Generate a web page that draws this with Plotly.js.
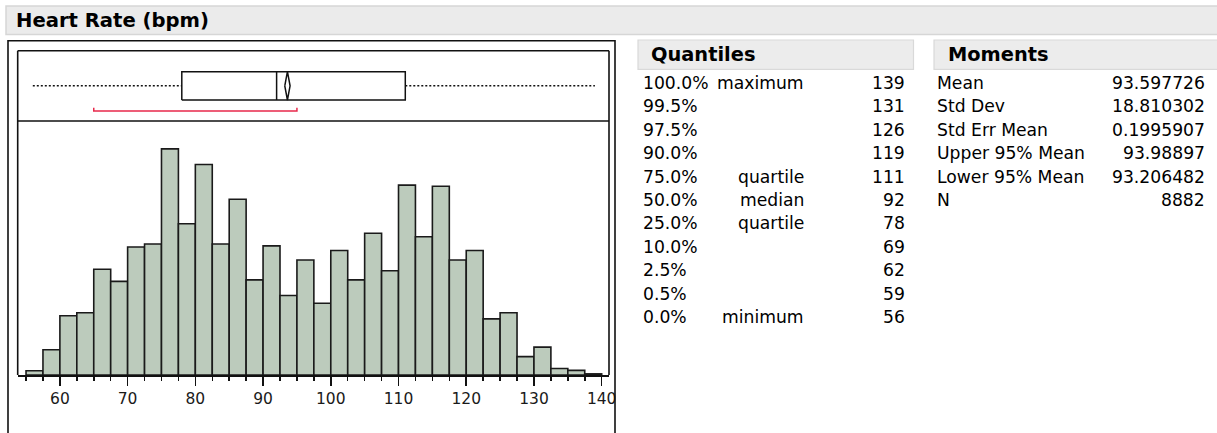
<!DOCTYPE html>
<html>
<head>
<meta charset="utf-8">
<script src="https://cdn.plot.ly/plotly-3.0.1.min.js"></script>
<style>
  html, body { margin: 0; padding: 0; background: #ffffff; }
  #chart { width: 1217px; height: 433px; }
</style>
</head>
<body>
<div id="chart"></div>
<script>
// Heart rate distribution: histogram counts per 2.5 bpm bin
const binLow = [55, 57.5, 60, 62.5, 65, 67.5, 70, 72.5, 75, 77.5, 80, 82.5, 85, 87.5,
                90, 92.5, 95, 97.5, 100, 102.5, 105, 107.5, 110, 112.5, 115, 117.5,
                120, 122.5, 125, 127.5, 130, 132.5, 135, 137.5];
const binCounts = [11, 66, 155, 163, 277, 245, 335, 343, 592, 396, 551, 343, 460, 249,
                   338, 208, 301, 188, 326, 249, 371, 273, 497, 362, 494, 301,
                   326, 147, 163, 48, 73, 17, 12, 3];
const binWidth = 2.5;

// Quantiles table
const quantileLevels = ["100.0%", "99.5%", "97.5%", "90.0%", "75.0%", "50.0%",
                        "25.0%", "10.0%", "2.5%", "0.5%", "0.0%"];
const quantileNames = ["maximum", "", "", "", "quartile", "median",
                       "quartile", "", "", "", "minimum"];
const quantileValues = [139, 131, 126, 119, 111, 92, 78, 69, 62, 59, 56];

// Moments table
const momentNames = ["Mean", "Std Dev", "Std Err Mean", "Upper 95% Mean", "Lower 95% Mean", "N"];
const momentValues = ["93.597726", "18.810302", "0.1995907", "93.98897", "93.206482", "8882"];

// Shortest half bracket
const shortestHalf = [65, 95];

// Summary values used by the outlier box plot
const qMax = quantileValues[0];
const qUpper = quantileValues[4];
const qMedian = quantileValues[5];
const qLower = quantileValues[6];
const qMin = quantileValues[10];
const mean = parseFloat(momentValues[0]);
const meanHi = parseFloat(momentValues[3]);
const meanLo = parseFloat(momentValues[4]);

// Page geometry (pixels) -> paper coordinates
const W = 1217, H = 433;
const px = v => v / W;
const py = v => 1 - v / H;

const FONT = "DejaVu Sans, Verdana, sans-serif";
const INK = "#111111";

// Box plot band is measured in pixels inside yaxis2 (range 0..70.3)
const boxBottom = 21, boxTop = 49.3, boxMid = 35.15, bracketY = 10, bracketTip = 13.3;

const traces = [
  {
    type: "bar",
    x: binLow.map(v => v + binWidth / 2),
    y: binCounts,
    width: binWidth,
    marker: { color: "#bccbbc", line: { color: "#1a1a1a", width: 1.6 } },
    xaxis: "x", yaxis: "y",
    hoverinfo: "x+y"
  },
  // whiskers
  {
    type: "scatter", mode: "lines",
    x: [qMin, qLower], y: [boxMid, boxMid],
    line: { color: INK, width: 1.5, dash: "2px,2px" },
    xaxis: "x", yaxis: "y2", hoverinfo: "skip"
  },
  {
    type: "scatter", mode: "lines",
    x: [qUpper, qMax], y: [boxMid, boxMid],
    line: { color: INK, width: 1.5, dash: "2px,2px" },
    xaxis: "x", yaxis: "y2", hoverinfo: "skip"
  },
  // quartile box
  {
    type: "scatter", mode: "lines",
    x: [qLower, qUpper, qUpper, qLower, qLower],
    y: [boxBottom, boxBottom, boxTop, boxTop, boxBottom],
    line: { color: INK, width: 1.5 },
    xaxis: "x", yaxis: "y2", hoverinfo: "skip"
  },
  // median
  {
    type: "scatter", mode: "lines",
    x: [qMedian, qMedian], y: [boxBottom, boxTop],
    line: { color: INK, width: 1.5 },
    xaxis: "x", yaxis: "y2", hoverinfo: "skip"
  },
  // mean diamond (95% confidence interval)
  {
    type: "scatter", mode: "lines",
    x: [meanLo, mean, meanHi, mean, meanLo],
    y: [boxMid, boxTop, boxMid, boxBottom, boxMid],
    line: { color: INK, width: 1.5 },
    xaxis: "x", yaxis: "y2", hoverinfo: "skip"
  },
  // shortest half
  {
    type: "scatter", mode: "lines",
    x: [shortestHalf[0], shortestHalf[0], shortestHalf[1], shortestHalf[1]],
    y: [bracketTip, bracketY, bracketY, bracketTip],
    line: { color: "#e8294b", width: 1.5 },
    xaxis: "x", yaxis: "y2", hoverinfo: "skip"
  }
];

const shapes = [];
const annotations = [];

function rect(x0, y0, x1, y1, fill, lineColor, lw) {
  shapes.push({
    type: "rect", xref: "paper", yref: "paper",
    x0: px(x0), x1: px(x1), y0: py(y1), y1: py(y0),
    fillcolor: fill, line: { color: lineColor, width: lw }, layer: "below"
  });
}
function line(x0, y0, x1, y1, color, lw) {
  shapes.push({
    type: "line", xref: "paper", yref: "paper",
    x0: px(x0), x1: px(x1), y0: py(y0), y1: py(y1),
    line: { color: color, width: lw }
  });
}
function text(str, x, y, anchor, size, bold) {
  annotations.push({
    xref: "paper", yref: "paper", x: px(x), y: py(y),
    xanchor: anchor, yanchor: "middle", showarrow: false,
    text: bold ? "<b>" + str + "</b>" : str,
    font: { family: FONT, size: size, color: "#000000" }
  });
}

// Report title bar
rect(6, 6, 1222, 34.5, "#ebebeb", "#d6d6d6", 1.5);
text("Heart Rate (bpm)", 14, 20, "left", 19.6, true);

// Outer frame of the plot panel (open at the bottom)
shapes.push({
  type: "path", xref: "paper", yref: "paper",
  path: `M ${px(8)} ${py(440)} L ${px(8)} ${py(40.7)} L ${px(615)} ${py(40.7)} L ${px(615)} ${py(440)}`,
  line: { color: INK, width: 1.6 }
});
// Inner plot frame and box-plot separator
line(17.7, 50.7, 609, 50.7, INK, 1.6);
line(17.7, 50.7, 17.7, 375, INK, 1.6);
line(609, 50.7, 609, 375, INK, 1.6);
line(17.7, 121, 609, 121, INK, 1.6);

// Quantiles table
rect(638, 40, 913.5, 69.3, "#ececec", "#d9d9d9", 1.2);
text("Quantiles", 649, 54.5, "left", 19.4, true);
const rowY0 = 83, rowStep = 23.4;
quantileLevels.forEach((lvl, i) => {
  const y = rowY0 + i * rowStep;
  text(lvl, 641, y, "left", 17.2, false);
  if (quantileNames[i]) text(quantileNames[i], 806, y, "right", 17.2, false);
  text(String(quantileValues[i]), 907, y, "right", 17.2, false);
});

// Moments table
rect(934, 40, 1222, 69.3, "#ececec", "#d9d9d9", 1.2);
text("Moments", 946, 54.5, "left", 19.4, true);
momentNames.forEach((name, i) => {
  const y = rowY0 + i * rowStep;
  text(name, 935, y, "left", 17.2, false);
  text(momentValues[i], 1207, y, "right", 17.2, false);
});

const layout = {
  width: W, height: H,
  margin: { l: 0, r: 0, t: 0, b: 0, pad: 0 },
  paper_bgcolor: "#ffffff", plot_bgcolor: "rgba(0,0,0,0)",
  showlegend: false,
  bargap: 0,
  xaxis: {
    domain: [px(17.7), px(609)],
    range: [53.77, 141.08],
    anchor: "y",
    showgrid: false, zeroline: false,
    showline: true, linecolor: INK, linewidth: 1.6,
    ticks: "outside", tick0: 0, dtick: 10, ticklen: 9, tickwidth: 1.5, tickcolor: INK,
    minor: { ticks: "outside", tick0: 55, dtick: 2.5, ticklen: 4, tickwidth: 1.5, tickcolor: INK, showgrid: false },
    tickfont: { family: FONT, size: 15.5, color: "#1a1a1a" },
    fixedrange: true
  },
  yaxis: {
    domain: [py(375), py(121)],
    range: [0, 665],
    visible: false, showgrid: false, zeroline: false, fixedrange: true
  },
  yaxis2: {
    domain: [py(121), py(50.7)],
    range: [0, 70.3],
    anchor: "x",
    visible: false, showgrid: false, zeroline: false, fixedrange: true
  },
  shapes: shapes,
  annotations: annotations
};

Plotly.newPlot("chart", traces, layout, { displayModeBar: false, staticPlot: true });
</script>
</body>
</html>
